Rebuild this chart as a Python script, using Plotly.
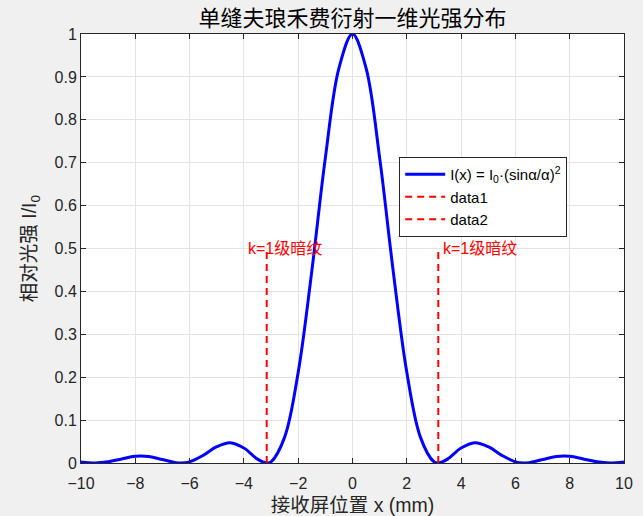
import plotly.graph_objects as go

# Data
x_pos = [-10, -9.48, -9.0, -8.5, -8.0, -7.5, -7.0, -6.5, -6.32, -6.0, -5.5, -5.0, -4.5, -4.0,
         -3.5, -3.16, -3.0, -2.5, -2.0, -1.5, -1.0, -0.5, 0.0,
         0.5, 1.0, 1.5, 2.0, 2.5, 3.0, 3.16, 3.5, 4.0, 4.5, 5.0, 5.5, 6.0, 6.32, 6.5,
         7.0, 7.5, 8.0, 8.5, 9.0, 9.48, 10]
intensity = [0.0025, 0.0, 0.0027, 0.0094, 0.0157, 0.0152, 0.0081, 0.0008, 0.0, 0.0027, 0.0178,
             0.0379, 0.0472, 0.0348, 0.0090, 0.0, 0.0028, 0.0603, 0.2113, 0.4468, 0.7113,
             0.9204, 1.0,
             0.9204, 0.7113, 0.4468, 0.2113, 0.0603, 0.0028, 0.0, 0.0090, 0.0348, 0.0472,
             0.0379, 0.0178, 0.0027, 0.0, 0.0008, 0.0081, 0.0152, 0.0157, 0.0094, 0.0027,
             0.0, 0.0025]

dark_fringe_x = [-3.16, 3.16]
dark_fringe_top = 0.5
fringe_label = "k=1级暗纹"
label_x = [-3.92, 3.26]

x_ticks = [-10, -8, -6, -4, -2, 0, 2, 4, 6, 8, 10]
y_ticks = [0, 0.1, 0.2, 0.3, 0.4, 0.5, 0.6, 0.7, 0.8, 0.9, 1]

title_text = "单缝夫琅禾费衍射一维光强分布"
x_title = "接收屏位置 x (mm)"
y_title = "相对光强 I/I<sub>0</sub>"
main_name = "I(x) = I<sub>0</sub>·(sinα/α)<sup>2</sup>"
fringe_names = ["data1", "data2"]

CJK = "Liberation Sans, Arial, Noto Sans CJK SC, sans-serif"
AX = "#262626"

fig = go.Figure()
fig.add_trace(go.Scatter(
    x=x_pos, y=intensity, mode="lines", name=main_name,
    line=dict(color="#0000ff", width=3, shape="spline", smoothing=1.0),
))
for xv, nm in zip(dark_fringe_x, fringe_names):
    fig.add_trace(go.Scatter(
        x=[xv, xv], y=[0, dark_fringe_top], mode="lines", name=nm,
        line=dict(color="#ff0000", width=2, dash="7px,5px"),
    ))

for lx in label_x:
    fig.add_annotation(x=lx, y=dark_fringe_top, text=fringe_label, showarrow=False,
                       xanchor="left", yanchor="middle",
                       font=dict(color="#ff0000", size=16, family=CJK))

axis_common = dict(
    showgrid=True, gridcolor="#e3e3e3", gridwidth=1,
    showline=True, linecolor=AX, linewidth=1, mirror="ticks",
    ticks="inside", ticklen=5, tickcolor=AX, tickwidth=1,
    zeroline=False, automargin=False,
    tickfont=dict(size=16, color=AX, family=CJK),
)

fig.update_layout(
    width=643, height=516,
    paper_bgcolor="#f0f0f0", plot_bgcolor="#ffffff",
    margin=dict(l=81, r=19, t=34, b=53),
    title=dict(text=title_text, x=0.5, xref="paper", xanchor="center",
               y=1 - 18 / 516, yref="container", yanchor="middle",
               font=dict(size=22, color="#000000", family="Noto Sans CJK SC, sans-serif")),
    xaxis=dict(range=[-10, 10], tickvals=x_ticks, ticklabelstandoff=6,
               title=dict(text=x_title, standoff=9,
                          font=dict(size=19.5, color=AX, family=CJK)),
               **axis_common),
    yaxis=dict(range=[0, 1], tickvals=y_ticks,
               title=dict(text=y_title, standoff=12,
                          font=dict(size=19.5, color=AX, family=CJK)),
               **axis_common),
    legend=dict(x=0.586, y=0.713, xanchor="left", yanchor="top",
                bgcolor="#ffffff", bordercolor=AX, borderwidth=1,
                font=dict(size=15, color="#000000", family=CJK),
                tracegroupgap=0, itemwidth=40),
    showlegend=True,
)

fig.write_html(
    "out.html",
    config={"displayModeBar": False},
    post_script="document.body.style.margin='0';document.body.style.background='#f0f0f0';",
)
